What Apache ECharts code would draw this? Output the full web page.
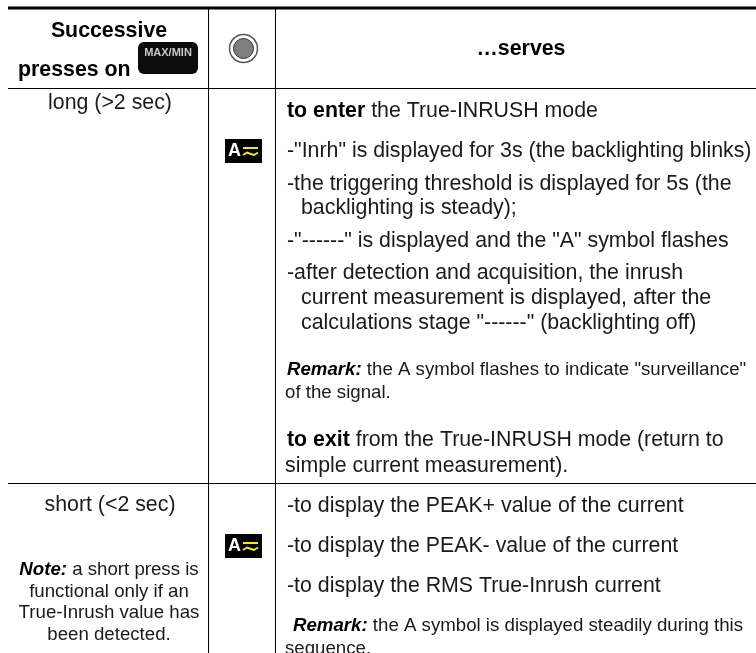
<!DOCTYPE html>
<html>
<head>
<meta charset="utf-8">
<style>
  html, body { margin: 0; padding: 0; background: #fff; }
  #main { width: 756px; height: 653px; }
</style>
<script src="https://cdn.jsdelivr.net/npm/echarts@6/dist/echarts.min.js"></script>
</head>
<body>
<div id="main"></div>
<script>
// ================= table text =================
const headerLeft = ['Successive', 'presses on']
const headerRight = ['…serves']
const buttonLabel = 'MAX/MIN'
const iconLetter = 'A'

const leftTexts = [
  'long (>2 sec)',
  'short (<2 sec)',
  '{bi|Note:} a short press is',
  'functional only if an',
  'True-Inrush value has',
  'been detected.',
]

const rightTexts = [
  '{b|to enter} the True-INRUSH mode',
  '-"Inrh" is displayed for 3s (the backlighting blinks)',
  '-the triggering threshold is displayed for 5s (the',
  'backlighting is steady);',
  '-"------" is displayed and the "A" symbol flashes',
  '-after detection and acquisition, the inrush',
  'current measurement is displayed, after the',
  'calculations stage "------" (backlighting off)',
  '{bi|Remark:} the A symbol flashes to indicate "surveillance"',
  'of the signal.',
  '{b|to exit} from the True-INRUSH mode (return to',
  'simple current measurement).',
  '-to display the PEAK+ value of the current',
  '-to display the PEAK- value of the current',
  '-to display the RMS True-Inrush current',
  '{bi|Remark:} the A symbol is displayed steadily during this',
  'sequence.',
]

// ================= layout (px) =================
const bigFont = 21.33
const smallFont = 18.67
const leftX = [110, 110, 109, 109, 109, 109]
const leftY = [103, 505, 570, 592, 613, 635]
const leftSize = [bigFont, bigFont, smallFont, smallFont, smallFont, smallFont]
const rightX = [287, 287, 287, 301, 287, 287, 301, 301, 287, 285, 287, 285, 287, 287, 287, 293, 285]
const rightY = [111, 151, 184, 208, 241, 273, 298, 323, 370, 393, 440, 466, 506, 546, 586, 626, 649]
const rightSize = [
  bigFont, bigFont, bigFont, bigFont, bigFont, bigFont, bigFont, bigFont, smallFont,
  smallFont, bigFont, bigFont, bigFont, bigFont, bigFont, smallFont, smallFont,
]

const font = '"Liberation Sans", Arial, sans-serif'
const ink = '#1a1a1a'

// ================= helpers =================
function line(x1, y1, x2, y2, w) {
  return { type: 'line', shape: { x1, y1, x2, y2 }, style: { stroke: '#000', lineWidth: w } }
}

function label(text, x, y, size, align, extra) {
  const boldStyle = { fontWeight: 'bold', fontFamily: font, fontSize: size, fill: '#000' }
  return {
    type: 'text',
    x,
    y,
    style: Object.assign({
      text,
      fill: ink,
      fontFamily: font,
      fontSize: size,
      align: align,
      verticalAlign: 'middle',
      rich: {
        b: boldStyle,
        bi: Object.assign({ fontStyle: 'italic' }, boldStyle),
      },
    }, extra || {}),
  }
}

// A~ symbol, black plate with the white letter and yellow wave
function rangeIcon(x, y) {
  return [
    { type: 'rect', shape: { x, y, width: 37, height: 24 }, style: { fill: '#000' } },
    label(iconLetter, x + 9.5, y + 12.5, 18, 'center', { fill: '#fff', fontWeight: 'bold' }),
    {
      type: 'line',
      shape: { x1: x + 18, y1: y + 9, x2: x + 33, y2: y + 9 },
      style: { stroke: '#f6e71b', lineWidth: 2 },
    },
    {
      type: 'polyline',
      shape: { points: [[x + 18, y + 16], [x + 22, y + 13.5], [x + 26, y + 15], [x + 29, y + 16], [x + 33, y + 13.5]] },
      style: { stroke: '#f6e71b', lineWidth: 2, fill: 'none' },
    },
  ]
}

// ================= chart =================
const chartInstance = echarts.init(document.getElementById('main'), null, { renderer: 'canvas' })
const elements = []

// rules
elements.push(line(8, 8, 756, 8, 3))
elements.push(line(8, 88.5, 756, 88.5, 1))
elements.push(line(8, 483.5, 756, 483.5, 1))
elements.push(line(208.5, 9, 208.5, 653, 1))
elements.push(line(275.5, 9, 275.5, 653, 1))

// header
const headStyle = { fontWeight: 'bold', fill: '#000' }
elements.push(label(headerLeft[0], 109, 31, bigFont, 'center', headStyle))
elements.push(label(headerLeft[1], 18, 70, bigFont, 'left', headStyle))
elements.push(label(headerRight[0], 521, 49, bigFont, 'center', headStyle))

// MAX/MIN button
elements.push({
  type: 'rect',
  shape: { x: 138, y: 42, width: 60, height: 32, r: 6 },
  style: { fill: '#0c0c0c' },
})
elements.push(label(buttonLabel, 168, 53, 11, 'center', { fontWeight: 'bold', fill: '#c9c9c9' }))

// round rotary switch symbol
elements.push({ type: 'circle', shape: { cx: 243.5, cy: 48.5, r: 14 }, style: { fill: '#fff', stroke: '#555', lineWidth: 1.5 } })
elements.push({ type: 'circle', shape: { cx: 243.5, cy: 48.5, r: 10 }, style: { fill: '#7f7f7f', stroke: '#333', lineWidth: 1 } })

// body text
leftTexts.forEach((t, i) => elements.push(label(t, leftX[i], leftY[i], leftSize[i], 'center')))
rightTexts.forEach((t, i) => elements.push(label(t, rightX[i], rightY[i], rightSize[i], 'left')))

rangeIcon(225, 139).concat(rangeIcon(225, 534)).forEach((e) => elements.push(e))

chartInstance.setOption({
  animation: false,
  backgroundColor: '#fff',
  graphic: { elements },
})

window.addEventListener('resize', () => chartInstance.resize())
</script>
</body>
</html>
